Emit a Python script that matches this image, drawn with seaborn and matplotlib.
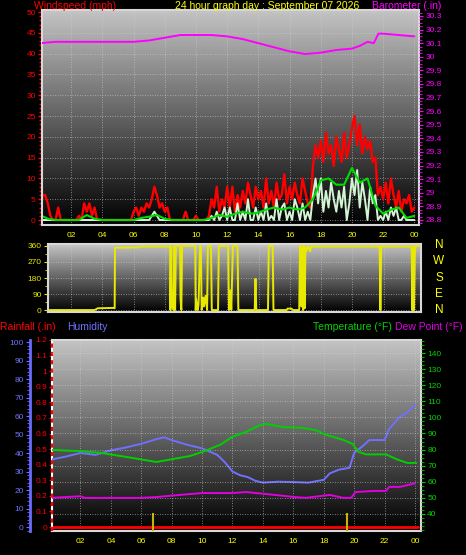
import numpy as np
import pandas as pd
import matplotlib
matplotlib.use("Agg")
import matplotlib.pyplot as plt
import seaborn as sns
from matplotlib.ticker import MultipleLocator
from matplotlib.colors import LinearSegmentedColormap

# ============ Data ============

# wind, 10 minute steps from 00:00 to 24:00 (mph)
wind_gust = [2, 6, 6, 4, 1, 0,
             0, 3, 0, 0, 0, 0,
             0, 0, 0, 1, 0, 4,
             2, 4, 1, 3, 0, 0,
             0, 0, 0, 0, 0, 0,
             0, 0, 0, 0, 0, 0,
             2, 3, 1, 3, 2, 4,
             3, 5, 8, 6, 3, 4,
             2, 3, 0, 0, 0, 0,
             0, 0, 2, 0, 0, 0,
             1, 0, 0, 0, 0, 1,
             5, 3, 8, 2, 5, 3,
             8, 3, 8, 2, 6, 3,
             7, 4, 9, 6, 3, 8,
             5, 7, 3, 10, 4, 7,
             3, 9, 5, 6, 11, 4,
             8, 5, 9, 6, 4, 10,
             7, 4, 3, 13, 18, 15,
             19, 14, 21, 16, 18, 13,
             20, 17, 14, 21, 15, 18,
             22, 25, 18, 23, 16, 20,
             17, 19, 14, 15, 6, 8,
             5, 9, 4, 10, 6, 3,
             7, 2, 5, 4, 6, 2,
             3]
wind_speed = [0] * 42 + [0, 1, 2, 1, 0, 0] + [0] * 18 + \
             [1, 0, 2, 0, 1, 3,
              0, 3, 0, 0, 4, 0,
              2, 0, 5, 0, 0, 3,
              0, 2, 0, 4, 0, 1,
              0, 5, 0, 3, 4, 0,
              2, 0, 5, 3, 0, 4,
              0, 2, 0, 6, 10, 4,
              10, 2, 7, 3, 9, 5,
              2, 7, 3, 8, 0, 4,
              10, 6, 12, 3, 9, 5,
              0, 8, 4, 6, 0, 1,
              0, 2, 0, 3, 1, 3,
              0, 0, 1, 0, 0, 0,
              0]
# average wind, 30 minute steps
wind_avg = [1.2, 0.3, 0, 0, 0, 0, 1.2, 0.3, 0, 0, 0, 0, 0, 0.5, 0.8, 1.2,
            0.3, 0, 0, 0, 0, 0, 0.5, 1.2, 0.8, 1.5, 2, 1.5, 1.8, 2.5, 3, 2.5,
            3, 2.5, 3, 5, 9.5, 10, 8.5, 8.5, 12.5, 9, 10, 3.5, 1.5, 2.5, 3, 0.5, 1]

baro_hours = [0, 1, 2, 3, 4, 5, 6, 7, 8, 9, 10, 11, 12, 13, 14, 15, 16, 17,
              18, 19, 20, 20.5, 21, 21.4, 21.7, 22, 23, 24]
baro = [30.10, 30.11, 30.11, 30.11, 30.11, 30.11, 30.11, 30.12, 30.14, 30.16,
        30.16, 30.16, 30.15, 30.13, 30.10, 30.07, 30.04, 30.02, 30.03, 30.05,
        30.06, 30.08, 30.11, 30.10, 30.17, 30.17, 30.16, 30.15]

dir_hours = [0.5, 3.5, 3.7, 4.7, 4.78, 4.8, 6.3, 6.4, 8.33, 8.35,
             8.4, 8.45, 8.5, 8.55, 8.6, 8.65, 8.7, 8.97, 9.0, 9.05,
             9.1, 9.94, 9.97, 10.0, 10.1, 10.15, 10.25, 10.3, 10.35, 10.45,
             10.5, 10.6, 10.7, 10.75, 10.95, 11.0, 11.4, 11.45, 12.05, 12.1,
             12.2, 12.25, 12.35, 12.65, 12.7, 13.75, 13.8, 13.85, 14.6, 14.65,
             14.9, 14.95, 15.8, 15.85, 16.1, 16.2, 16.6, 16.65, 16.7, 16.75,
             16.8, 16.85, 16.9, 16.95, 17.0, 17.05, 17.15, 17.3, 17.35, 21.75,
             21.8, 21.85, 23.8, 23.85, 23.9, 23.95, 24.0, 24.05, 24.3]
dir_deg = [0, 0, 10, 12, 10, 350, 352, 357, 357, 0,
           360, 20, 80, 0, 360, 0, 360, 360, 60, 0,
           360, 360, 0, 60, 0, 30, 360, 360, 0, 70,
           20, 80, 0, 360, 360, 0, 0, 360, 360, 0,
           110, 0, 360, 360, 0, 0, 175, 0, 0, 360,
           360, 0, 0, 8, 8, 0, 0, 360, 340, 20,
           360, 0, 360, 10, 350, 330, 360, 330, 357, 357,
           0, 357, 357, 0, 360, 0, 300, 360, 360]
dir_letters = ["N", "W", "S", "E", "N"]

hum_hours = [0.1, 1, 2, 3, 4, 5, 6, 7, 7.5, 8, 9, 10, 11, 11.5, 12, 12.5, 13,
             13.5, 14, 15, 16, 17, 18, 18.4, 19, 19.7, 20, 20.6, 21, 22, 22.3,
             23, 23.5, 24]
humidity = [36.5, 38, 40, 39, 41.5, 43, 45, 47.5, 48.5, 47, 44.5, 42.5, 39, 35,
            30, 28, 27, 25, 24, 24.5, 24.3, 24, 25.5, 29, 31, 32, 40, 44, 47,
            47, 53, 59.5, 62, 66]

temp_hours = [0.1, 2, 3.3, 5.3, 7, 8, 9.2, 10, 11.2, 12, 12.9, 13.75, 14.2,
              15.3, 16.6, 17.5, 18.2, 19.3, 19.9, 20.3, 20.8, 22.1, 22.8, 23.5, 24.1]
temperature = [79.8, 79, 78, 75, 72.3, 74, 76, 78.5, 83, 88, 91, 95, 96, 94,
               93.5, 92, 89, 86, 83.5, 78.5, 77, 77, 74, 71.7, 71.7]

dew_hours = [0.1, 1, 2, 2.3, 4, 6, 7, 8.5, 10, 12, 12.9, 14.2, 16, 16.8, 18.4,
             19.3, 19.8, 20.1, 21.3, 22.1, 22.3, 23, 24]
dew_point = [50, 50.5, 51, 50, 50, 50, 50.5, 51.8, 53, 53, 53.6, 52.4, 50.6,
             50, 51.8, 50, 50, 53.6, 54.3, 54.3, 56.8, 56.8, 59]

rain_hours = [0.1, 24.2]
rainfall = [0, 0]
rate_hours = [6.8, 19.5]
rain_rate = [0.09, 0.09]

hour_ticks = list(range(2, 25, 2))
hour_labels = [f"{h % 24:02d}" for h in hour_ticks]

# ============ Style ============
sns.set_style("dark", {"axes.facecolor": "black", "figure.facecolor": "black"})
plt.rcParams['font.family'] = ['Liberation Sans', 'DejaVu Sans']

GRID = dict(color='#d0d0d0', linestyle=(0, (1, 2)), linewidth=0.6, alpha=0.75)
BORDER = '#d8d8d8'
FS_TICK = 6
FS_TITLE = 7.5

gray_cmap = LinearSegmentedColormap.from_list('shade', ['#000000', '#c4c4c4'])


def shade(ax):
    """vertical grey gradient behind the plot area"""
    grad = np.linspace(0, 1, 256).reshape(-1, 1)
    ax.imshow(grad, aspect='auto', cmap=gray_cmap, origin='lower',
              extent=[0, 1, 0, 1], transform=ax.transAxes, zorder=0)


def style_twin(ax):
    for s in ax.spines.values():
        s.set_visible(False)
    ax.grid(False)
    ax.set_xlabel('')
    ax.set_ylabel('')


fig = plt.figure(figsize=(4.66, 5.55), dpi=100, facecolor='black')

# ============ Panel 1: wind + barometer ============
ax1 = fig.add_axes([42 / 466, 1 - 225 / 555, 377 / 466, 215 / 555])
shade(ax1)
wind_df = pd.DataFrame({"hour": np.arange(len(wind_gust)) / 6,
                        "gust": wind_gust, "speed": wind_speed})
avg_df = pd.DataFrame({"hour": np.arange(len(wind_avg)) / 2, "avg": wind_avg})
sns.lineplot(data=wind_df, x="hour", y="gust", ax=ax1, color='#ff0000', lw=1.7, estimator=None)
sns.lineplot(data=wind_df, x="hour", y="speed", ax=ax1, color='#d4f5d4', lw=1.4, estimator=None)
sns.lineplot(data=avg_df, x="hour", y="avg", ax=ax1, color='#00dd00', lw=1.5, estimator=None)
ax1.set_xlim(0.13, 24.3)
ax1.set_ylim(-1.2, 50.5)
ax1.set_xticks(hour_ticks)
ax1.set_xticklabels(hour_labels)
ax1.set_yticks(range(0, 51, 5))
ax1.yaxis.set_minor_locator(MultipleLocator(1))
ax1.tick_params(axis='x', colors='#ffff00', labelsize=FS_TICK, length=0, pad=5, bottom=True)
ax1.tick_params(axis='y', which='major', colors='red', labelsize=FS_TICK, length=3, width=1, pad=1.5, left=True)
ax1.tick_params(axis='y', which='minor', colors='red', length=2, width=1, left=True)
ax1.grid(True, **GRID)
ax1.set_xlabel('')
ax1.set_ylabel('')
for s in ax1.spines.values():
    s.set_color(BORDER)
    s.set_linewidth(1.5)

ax1b = ax1.twinx()
sns.lineplot(x=baro_hours, y=baro, ax=ax1b, color='#ff00ff', lw=1.4, estimator=None)
ax1b.set_ylim(28.763, 30.344)
baro_ticks = [round(28.8 + 0.1 * i, 1) for i in range(16)]
ax1b.set_yticks(baro_ticks)
ax1b.set_yticklabels([f"{v:g}" for v in baro_ticks])
ax1b.yaxis.set_minor_locator(MultipleLocator(0.025))
ax1b.tick_params(axis='y', which='major', colors='#ff00ff', labelsize=FS_TICK, length=3, pad=1.5, right=True)
ax1b.tick_params(axis='y', which='minor', colors='#ff00ff', length=2, right=True)
style_twin(ax1b)

fig.text(34 / 466, 1 - 6 / 555, "Windspeed (mph)", color='red', fontsize=FS_TITLE, ha='left', va='center')
fig.text(267 / 466, 1 - 6 / 555, "24 hour graph day : September 07 2026", color='#ffff00',
         fontsize=FS_TITLE, ha='center', va='center')
fig.text(372 / 466, 1 - 6 / 555, "Barometer (.in)", color='#ff00ff', fontsize=FS_TITLE, ha='left', va='center')

# ============ Panel 2: wind direction ============
ax2 = fig.add_axes([48 / 466, 1 - 312 / 555, 373 / 466, 68 / 555])
shade(ax2)
sns.lineplot(x=dir_hours, y=dir_deg, ax=ax2, color='#e8e800', lw=1.4, estimator=None, sort=False)
ax2.set_xlim(0.51, 24.4)
ax2.set_ylim(-11, 371)
ax2.set_xticks(hour_ticks)
ax2.set_xticklabels([])
ax2.set_yticks([0, 90, 180, 270, 360])
ax2.yaxis.set_minor_locator(MultipleLocator(45))
ax2.tick_params(axis='x', length=0)
ax2.tick_params(axis='y', which='major', colors='#e8e800', labelsize=FS_TICK, length=3, pad=1.5, left=True)
ax2.tick_params(axis='y', which='minor', colors='#e8e800', length=2, left=True)
ax2.grid(True, **GRID)
ax2.set_xlabel('')
ax2.set_ylabel('')
for s in ax2.spines.values():
    s.set_color(BORDER)
    s.set_linewidth(1.5)
for i, letter in enumerate(dir_letters):
    fig.text(439 / 466, 1 - (245 + 16.3 * i) / 555, letter, color='#ffff00', fontsize=8.5,
             ha='center', va='center')

# ============ Panel 3: rain, humidity, temperature ============
ax3 = fig.add_axes([52 / 466, 1 - 531 / 555, 369 / 466, 191 / 555])
shade(ax3)
ax3.vlines(rate_hours, -0.0256, rain_rate, color='#c8b400', lw=1.5, zorder=3)
sns.lineplot(x=rain_hours, y=rainfall, ax=ax3, color='#ff0000', lw=2, estimator=None)
ax3.set_xlim(0.13, 24.4)
ax3.set_ylim(-0.0256, 1.196)
rain_ticks = [round(0.1 * i, 1) for i in range(13)]
ax3.set_yticks(rain_ticks)
ax3.set_yticklabels([f"{v:g}" for v in rain_ticks])
ax3.yaxis.set_minor_locator(MultipleLocator(0.025))
ax3.set_xticks(hour_ticks)
ax3.set_xticklabels(hour_labels)
ax3.tick_params(axis='x', colors='#ffff00', labelsize=FS_TICK, length=0, pad=5, bottom=True)
ax3.tick_params(axis='y', which='major', colors='red', labelsize=FS_TICK, length=2, pad=1.5, left=True)
ax3.tick_params(axis='y', which='minor', colors='red', length=1.5, left=True)
ax3.grid(True, axis='x', **GRID)
ax3.set_xlabel('')
ax3.set_ylabel('')
for s in ax3.spines.values():
    s.set_color(BORDER)
    s.set_linewidth(1.5)
ax3.spines['left'].set_color('white')
ax3.axvline(0.13, color='red', lw=1.5, ls=(0, (2, 2)), clip_on=False, zorder=5)

ax3h = ax3.twinx()
sns.lineplot(x=hum_hours, y=humidity, ax=ax3h, color='#7070ff', lw=1.4, estimator=None)
ax3h.set_ylim(-2.16, 101.1)
style_twin(ax3h)
ax3h.spines['left'].set_visible(True)
ax3h.spines['left'].set_position(('axes', -22 / 369))
ax3h.spines['left'].set_color('#6a6aff')
ax3h.spines['left'].set_linewidth(2)
ax3h.yaxis.set_ticks_position('left')
ax3h.set_yticks(range(0, 101, 10))
ax3h.yaxis.set_minor_locator(MultipleLocator(2))
ax3h.tick_params(axis='y', which='major', colors='#7070ff', labelsize=FS_TICK, length=3, pad=1.5,
                 left=True, right=False, labelleft=True, labelright=False)
ax3h.tick_params(axis='y', which='minor', colors='#7070ff', length=2, left=True, right=False)

ax3t = ax3.twinx()
sns.lineplot(x=temp_hours, y=temperature, ax=ax3t, color='#00d000', lw=1.4, estimator=None)
sns.lineplot(x=dew_hours, y=dew_point, ax=ax3t, color='#e000e0', lw=1.4, estimator=None)
ax3t.set_ylim(29.4, 148.1)
style_twin(ax3t)
ax3t.set_yticks(range(40, 141, 10))
ax3t.yaxis.set_minor_locator(MultipleLocator(2.5))
ax3t.tick_params(axis='y', which='major', colors='#00d000', labelsize=FS_TICK, length=3, pad=1.5, right=True)
ax3t.tick_params(axis='y', which='minor', colors='#00d000', length=2, right=True)
ax3t.grid(True, axis='y', **GRID)

fig.text(0 / 466, 1 - 327 / 555, "Rainfall (.in)", color='red', fontsize=FS_TITLE, ha='left', va='center')
fig.text(67 / 466, 1 - 327 / 555, "Humidity", color='#7070ff', fontsize=FS_TITLE, ha='left', va='center')
fig.text(313 / 466, 1 - 327 / 555, "Temperature (\u00b0F)", color='#00d000', fontsize=FS_TITLE, ha='left', va='center')
fig.text(395 / 466, 1 - 327 / 555, "Dew Point (\u00b0F)", color='#e000e0', fontsize=FS_TITLE, ha='left', va='center')

fig.savefig("out.png", dpi=100, facecolor='black')
